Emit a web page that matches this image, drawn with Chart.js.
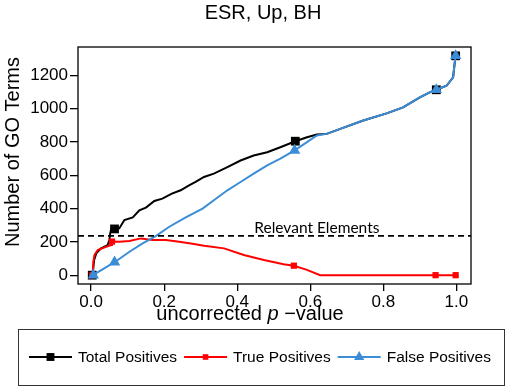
<!DOCTYPE html>
<html>
<head>
<meta charset="utf-8">
<script src="https://cdn.jsdelivr.net/npm/chart.js@4.4.1/dist/chart.umd.min.js"></script>
<style>
    html, body { margin: 0; padding: 0; background: #fff; }
    #wrap { width: 510px; height: 390px; }
</style>
</head>
<body>
<div id="wrap"><canvas id="grafico" width="510" height="390"></canvas></div>
<script>
// textos
const tituloGrafico = 'ESR, Up, BH';
const tituloY = 'Number of GO Terms';
const tituloX = ['uncorrected ', 'p', ' \u2212value'];
const rotuloRelevantes = 'Relevant Elements';
const nomesSeries = ['Total Positives', 'True Positives', 'False Positives'];

// ticks
const xTicks = [0, 0.2, 0.4, 0.6, 0.8, 1.0];
const yTicks = [0, 200, 400, 600, 800, 1000, 1200];

// linha tracejada
const relevantes = 236;

// Total Positives
const totalX = [0, 0.004, 0.008, 0.014, 0.027, 0.045, 0.050, 0.052, 0.055, 0.066, 0.077, 0.091, 0.114, 0.132, 0.150,
    0.173, 0.195, 0.221, 0.245, 0.268, 0.286, 0.309, 0.336, 0.373, 0.409, 0.445, 0.482, 0.518, 0.559, 0.591,
    0.618, 0.645, 0.682, 0.745, 0.809, 0.854, 0.900, 0.927, 0.945, 0.973, 0.991, 0.995, 0.998];
const totalY = [0, 0, 90, 131, 161, 181, 211, 250, 277, 278, 281, 331, 347, 390, 406,
    446, 460, 490, 510, 540, 560, 590, 610, 649, 689, 719, 739, 769, 805, 829,
    845, 849, 879, 929, 972, 1008, 1068, 1098, 1114, 1138, 1188, 1268, 1318];
const totalMarcaX = [0.003, 0.064, 0.559, 0.945, 0.998];
const totalMarcaY = [0, 278, 805, 1114, 1318];

// True Positives
const trueX = [0, 0.004, 0.006, 0.009, 0.018, 0.041, 0.055, 0.057, 0.077, 0.105, 0.136, 0.168, 0.205, 0.241,
    0.273, 0.309, 0.364, 0.418, 0.473, 0.527, 0.555, 0.591, 0.627, 1.0];
const trueY = [0, 0, 80, 121, 151, 171, 181, 202, 201, 205, 221, 211, 211, 201,
    191, 177, 161, 121, 91, 66, 57, 32, 0, 0];
const trueMarcaX = [0.003, 0.057, 0.555, 0.943, 0.998];
const trueMarcaY = [0, 202, 57, 0, 0];

// False Positives
const falseX = [0.005, 0.064, 0.105, 0.141, 0.177, 0.214, 0.259, 0.305, 0.336, 0.373, 0.409, 0.445, 0.482, 0.518,
    0.557, 0.591, 0.618, 0.645, 0.682, 0.745, 0.809, 0.854, 0.900, 0.927, 0.945, 0.973, 0.991, 0.995, 0.998];
const falseY = [0, 78, 141, 191, 235, 291, 347, 400, 450, 510, 560, 610, 660, 700,
    750, 799, 839, 849, 879, 929, 972, 1008, 1068, 1098, 1114, 1138, 1188, 1268, 1318];
const falseMarcaX = [0.006, 0.064, 0.557, 0.945, 0.998];
const falseMarcaY = [0, 78, 750, 1114, 1318];

const fonte = '"Liberation Sans", Arial, Helvetica, sans-serif';
const corAzul = '#3b8dd7';

function pontos(xs, ys) {
    return xs.map(function (x, i) { return { x: x, y: ys[i] }; });
}

// estilo de cada serie (linha + marcador)
const estilos = [
    { cor: '#000000', simbolo: 'rect', raio: 6.2 },
    { cor: '#ff0000', simbolo: 'rect', raio: 4.4 },
    { cor: corAzul, simbolo: 'triangle', raio: 6.6 }
];

function linha(xs, ys, est) {
    return {
        data: pontos(xs, ys), showLine: true, borderColor: est.cor, borderWidth: 2,
        pointRadius: 0, tension: 0
    };
}
function marcas(xs, ys, est) {
    return {
        data: pontos(xs, ys), showLine: false, pointStyle: est.simbolo, pointRadius: est.raio,
        pointBackgroundColor: est.cor, pointBorderColor: est.cor, pointBorderWidth: 0
    };
}

const xMin = -0.036, xMax = 1.04;

// primeiro dataset fica por cima
const datasets = [
    {
        data: [{ x: xMin, y: relevantes }, { x: xMax, y: relevantes }], showLine: true,
        borderColor: '#000', borderWidth: 1.6, borderDash: [6, 4], pointRadius: 0
    },
    marcas(falseMarcaX, falseMarcaY, estilos[2]),
    linha(falseX, falseY, estilos[2]),
    marcas(trueMarcaX, trueMarcaY, estilos[1]),
    linha(trueX, trueY, estilos[1]),
    marcas(totalMarcaX, totalMarcaY, estilos[0]),
    linha(totalX, totalY, estilos[0])
];

const extras = {
    id: 'extras',
    afterDraw(chart) {
        const ctx = chart.ctx, a = chart.chartArea;
        const sx = chart.scales.x, sy = chart.scales.y;
        ctx.save();

        // moldura do grafico
        ctx.strokeStyle = '#000';
        ctx.lineWidth = 1.3;
        ctx.strokeRect(a.left, a.top, a.right - a.left, a.bottom - a.top);

        ctx.fillStyle = '#000';
        ctx.textBaseline = 'alphabetic';

        // titulo
        ctx.font = '20px ' + fonte;
        ctx.textAlign = 'center';
        ctx.fillText(tituloGrafico, 263, 19);

        // titulo eixo y
        ctx.save();
        ctx.translate(19, 152);
        ctx.rotate(-Math.PI / 2);
        ctx.font = '20px ' + fonte;
        ctx.fillText(tituloY, 0, 0);
        ctx.restore();

        // titulo eixo x com p em italico
        ctx.textAlign = 'left';
        const fontes = ['20px ' + fonte, 'italic 20px ' + fonte, '20px ' + fonte];
        const larg = tituloX.map(function (t, i) { ctx.font = fontes[i]; return ctx.measureText(t).width; });
        let px = 250 - (larg[0] + larg[1] + larg[2]) / 2;
        tituloX.forEach(function (t, i) {
            ctx.font = fontes[i];
            ctx.fillText(t, px, 320);
            px += larg[i];
        });

        // rotulo da linha tracejada
        ctx.font = '15.5px Lato, "Open Sans", sans-serif';
        ctx.textAlign = 'center';
        ctx.fillText(rotuloRelevantes, sx.getPixelForValue(0.618), sy.getPixelForValue(relevantes) - 3);

        // legenda
        ctx.strokeStyle = '#333';
        ctx.lineWidth = 1;
        ctx.strokeRect(18.5, 329.5, 486, 56);
        ctx.font = '15.5px ' + fonte;
        ctx.textAlign = 'left';
        ctx.textBaseline = 'middle';
        let lx = 29;
        const ly = 357;
        nomesSeries.forEach(function (nome, i) {
            const est = estilos[i];
            ctx.strokeStyle = est.cor;
            ctx.lineWidth = 2;
            ctx.beginPath();
            ctx.moveTo(lx, ly);
            ctx.lineTo(lx + 43, ly);
            ctx.stroke();
            ctx.fillStyle = est.cor;
            Chart.helpers.drawPoint(ctx, {
                pointStyle: est.simbolo, radius: est.raio * 0.9, rotation: 0, borderWidth: 0
            }, lx + 21.5, ly);
            ctx.fillStyle = '#000';
            ctx.fillText(nome, lx + 49, ly + 1);
            lx += 49 + ctx.measureText(nome).width + 7;
        });

        ctx.restore();
    }
};

new Chart(document.getElementById('grafico'), {
    type: 'scatter',
    data: { datasets: datasets },
    options: {
        responsive: false,
        animation: false,
        devicePixelRatio: 1,
        layout: { padding: { left: 0, top: 47, right: 39, bottom: 76 } },
        plugins: { legend: { display: false }, tooltip: { enabled: false }, title: { display: false } },
        scales: {
            x: {
                type: 'linear', min: xMin, max: xMax,
                afterBuildTicks: function (s) { s.ticks = xTicks.map(function (v) { return { value: v }; }); },
                afterFit: function (s) { s.height = 30; },
                ticks: {
                    callback: function (v) { return Number(v).toFixed(1); },
                    font: { size: 17, family: fonte }, color: '#000', padding: 1,
                    maxRotation: 0, autoSkip: false
                },
                grid: { drawOnChartArea: false, drawTicks: true, tickLength: 7, color: '#000', lineWidth: 1.3 },
                border: { display: false }
            },
            y: {
                type: 'linear', min: -53, max: 1371,
                afterBuildTicks: function (s) { s.ticks = yTicks.map(function (v) { return { value: v }; }); },
                afterFit: function (s) { s.width = 78; },
                ticks: {
                    callback: function (v) { return String(v); },
                    font: { size: 17, family: fonte }, color: '#000', padding: 2, autoSkip: false
                },
                grid: { drawOnChartArea: false, drawTicks: true, tickLength: 8, color: '#000', lineWidth: 1.3 },
                border: { display: false }
            }
        }
    },
    plugins: [extras]
});
</script>
</body>
</html>
